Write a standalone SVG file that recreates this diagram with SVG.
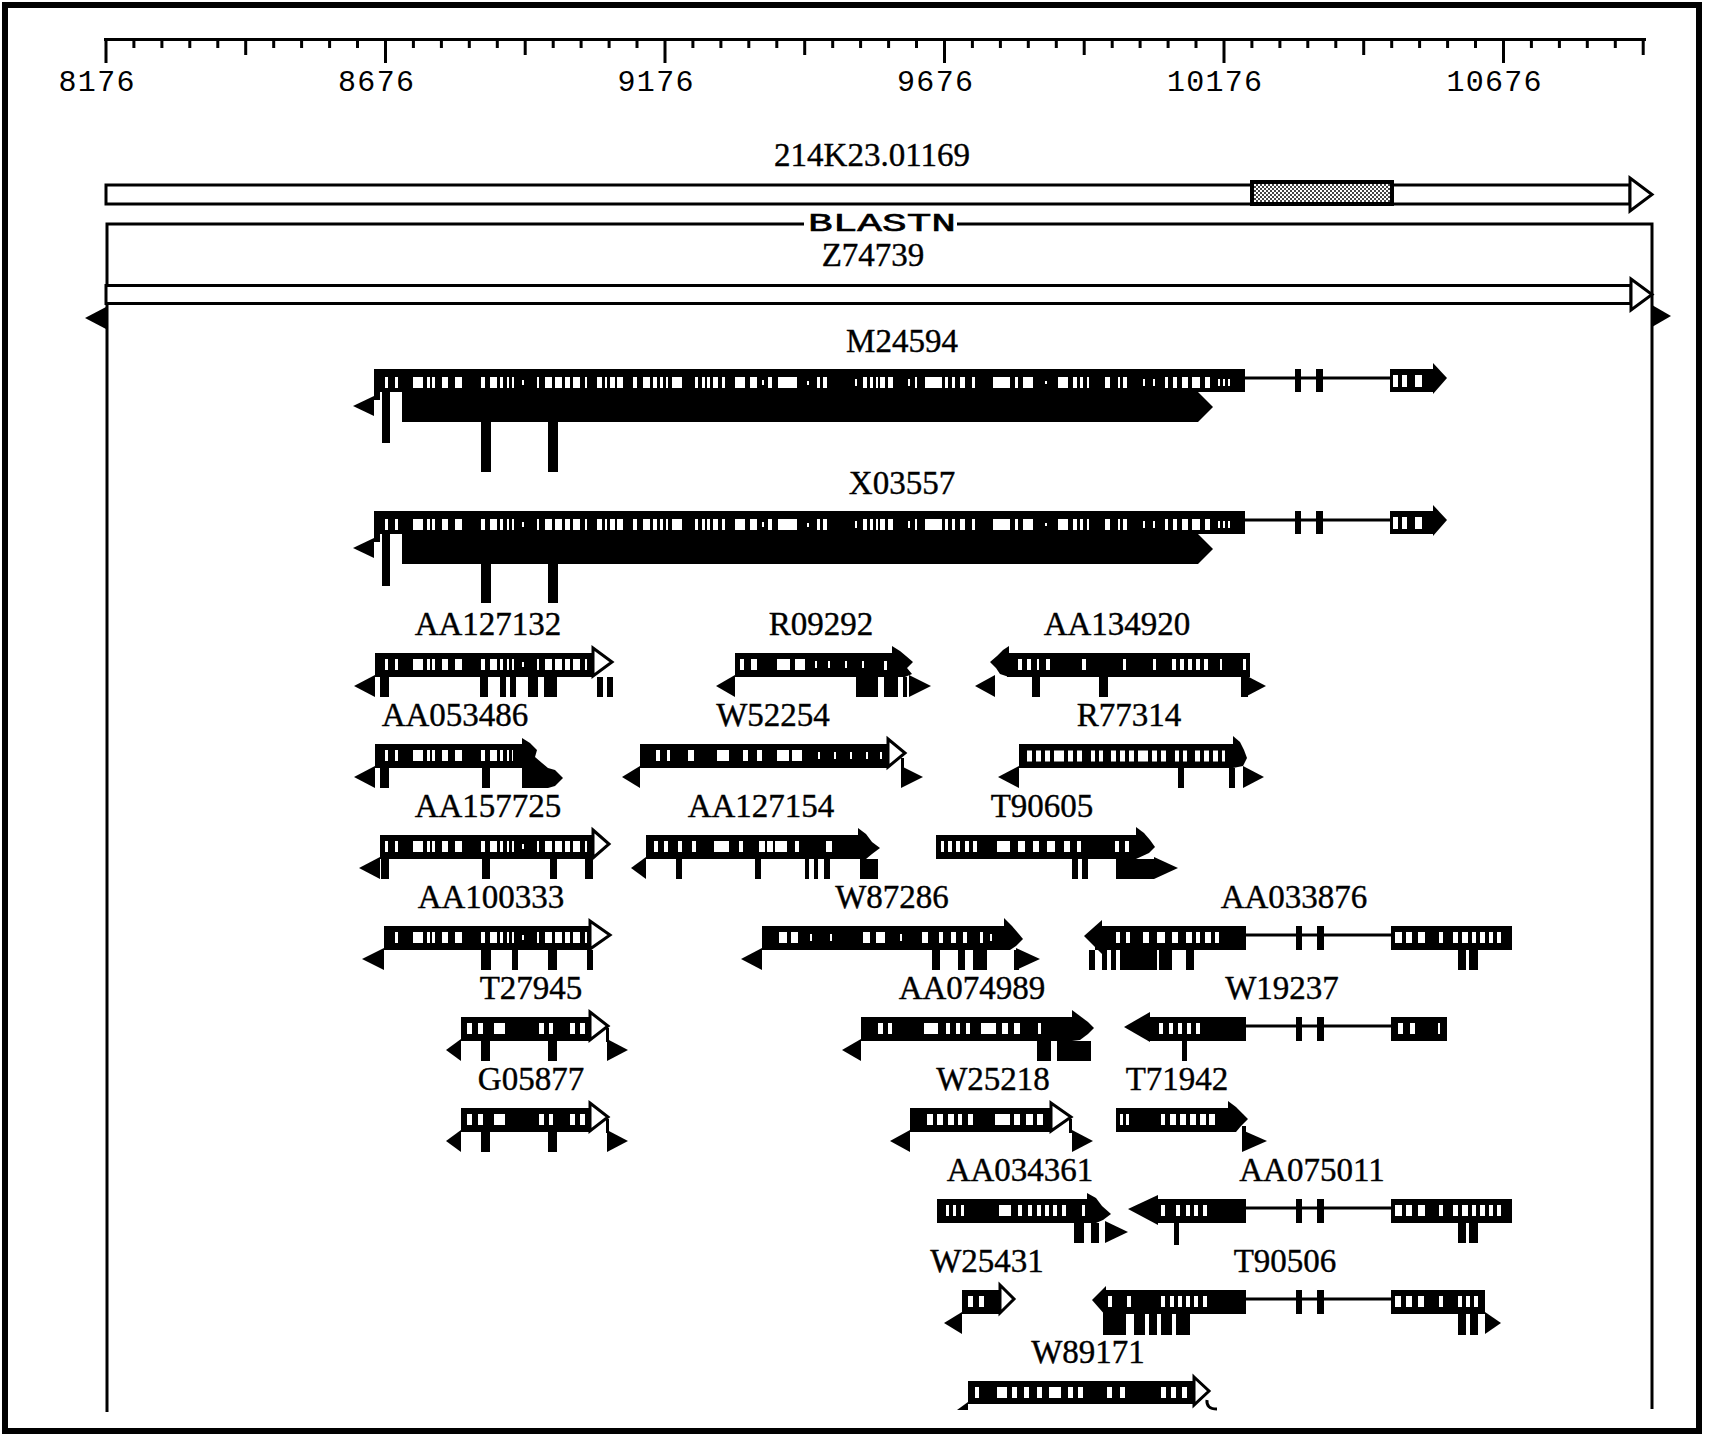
<svg xmlns="http://www.w3.org/2000/svg" width="1710" height="1441" viewBox="0 0 1710 1441">
<defs>
<pattern id="stip" width="4" height="4" patternUnits="userSpaceOnUse"><rect width="4" height="4" fill="#fff"/><rect width="2" height="2" fill="#444"/><rect x="2" y="2" width="2" height="2" fill="#444"/></pattern>
<style>
.b{fill:#000}
.oh{fill:#fff;stroke:#000;stroke-width:3}
.ln{fill:none;stroke:#000;stroke-width:3}
.lbl{font-family:"Liberation Serif","Times New Roman",serif;font-size:33px;text-anchor:middle;fill:#000;stroke:#000;stroke-width:0.4}
.num{font-family:"Liberation Mono","Courier New",monospace;font-size:30px;text-anchor:middle;fill:#000}
.win{fill:none;stroke:#fff;stroke-width:11}
.p3{stroke-dasharray:5 4 5 4 5 4 10 4 5 4 5 9 4 4 4 8}
.wn rect{fill:#fff}
</style>
<g id="mw" class="wn">
<rect x="385" y="0" width="3" height="11"/><rect x="395" y="0" width="3" height="11"/><rect x="413" y="0" width="10" height="11"/><rect x="427" y="0" width="3" height="11"/><rect x="432" y="0" width="3" height="11"/><rect x="442" y="0" width="6" height="11"/><rect x="455" y="0" width="7" height="11"/><rect x="481" y="0" width="4" height="11"/><rect x="490" y="0" width="7" height="11"/><rect x="500" y="0" width="3" height="11"/><rect x="507" y="0" width="2" height="11"/><rect x="512" y="0" width="2" height="11"/><rect x="522" y="3" width="2" height="5"/><rect x="537" y="0" width="2" height="11"/><rect x="545" y="0" width="7" height="11"/><rect x="555" y="0" width="7" height="11"/><rect x="565" y="0" width="5" height="11"/><rect x="573" y="0" width="7" height="11"/><rect x="585" y="0" width="2" height="11"/><rect x="597" y="0" width="5" height="11"/><rect x="605" y="0" width="2" height="11"/><rect x="610" y="0" width="5" height="11"/><rect x="617" y="0" width="6" height="11"/><rect x="633" y="0" width="4" height="11"/><rect x="643" y="0" width="7" height="11"/><rect x="653" y="0" width="4" height="11"/><rect x="660" y="0" width="3" height="11"/><rect x="666" y="0" width="2" height="11"/><rect x="672" y="0" width="10" height="11"/><rect x="695" y="0" width="3" height="11"/><rect x="702" y="0" width="3" height="11"/><rect x="707" y="0" width="3" height="11"/><rect x="713" y="0" width="5" height="11"/><rect x="722" y="0" width="3" height="11"/><rect x="735" y="0" width="10" height="11"/><rect x="750" y="0" width="7" height="11"/><rect x="762" y="3" width="2" height="5"/><rect x="768" y="0" width="4" height="11"/><rect x="778" y="0" width="19" height="11"/><rect x="807" y="4" width="2" height="4"/><rect x="817" y="0" width="3" height="11"/><rect x="823" y="0" width="4" height="11"/><rect x="855" y="2" width="2" height="7"/><rect x="863" y="0" width="4" height="11"/><rect x="870" y="0" width="3" height="11"/><rect x="876" y="0" width="2" height="11"/><rect x="880" y="0" width="5" height="11"/><rect x="888" y="0" width="5" height="11"/><rect x="908" y="2" width="2" height="7"/><rect x="915" y="0" width="2" height="11"/><rect x="925" y="0" width="17" height="11"/><rect x="945" y="0" width="3" height="11"/><rect x="952" y="0" width="3" height="11"/><rect x="960" y="0" width="5" height="11"/><rect x="972" y="0" width="3" height="11"/><rect x="993" y="0" width="17" height="11"/><rect x="1015" y="0" width="3" height="11"/><rect x="1023" y="0" width="10" height="11"/><rect x="1045" y="4" width="2" height="3"/><rect x="1058" y="0" width="10" height="11"/><rect x="1073" y="0" width="4" height="11"/><rect x="1080" y="0" width="3" height="11"/><rect x="1087" y="0" width="2" height="11"/><rect x="1105" y="0" width="5" height="11"/><rect x="1118" y="0" width="2" height="11"/><rect x="1123" y="0" width="4" height="11"/><rect x="1143" y="2" width="2" height="7"/><rect x="1153" y="2" width="2" height="7"/><rect x="1165" y="0" width="3" height="11"/><rect x="1173" y="0" width="4" height="11"/><rect x="1182" y="0" width="6" height="11"/><rect x="1192" y="0" width="8" height="11"/><rect x="1205" y="0" width="5" height="11"/><rect x="1218" y="2" width="2" height="7"/><rect x="1223" y="2" width="2" height="7"/><rect x="1228" y="2" width="2" height="7"/>
</g>
<clipPath id="cA" clipPathUnits="userSpaceOnUse"><rect x="378" y="640" width="212" height="40"/></clipPath>
<clipPath id="cB" clipPathUnits="userSpaceOnUse"><rect x="380" y="740" width="133" height="30"/></clipPath>
<clipPath id="cC" clipPathUnits="userSpaceOnUse"><rect x="384" y="830" width="206" height="30"/></clipPath>
<clipPath id="cD" clipPathUnits="userSpaceOnUse"><rect x="388" y="920" width="200" height="30"/></clipPath>
</defs>
<rect width="1710" height="1441" fill="#fff"/>
<rect x="5" y="5" width="1694" height="1426" fill="none" stroke="#000" stroke-width="6"/>

<g id="ruler">
<path class="ln" d="M104,39.5H1646"/>
<path fill="none" stroke="#000" stroke-width="3" d="M133.9,39v9M161.9,39v9M189.8,39v9M217.8,39v9M273.7,39v9M301.6,39v9M329.6,39v9M357.5,39v9M413.4,39v9M441.4,39v9M469.3,39v9M497.3,39v9M553.2,39v9M581.1,39v9M609.1,39v9M637,39v9M692.9,39v9M720.9,39v9M748.8,39v9M776.8,39v9M832.7,39v9M860.6,39v9M888.6,39v9M916.5,39v9M972.4,39v9M1000.4,39v9M1028.3,39v9M1056.3,39v9M1112.2,39v9M1140.1,39v9M1168.1,39v9M1196,39v9M1251.9,39v9M1279.9,39v9M1307.8,39v9M1335.8,39v9M1391.7,39v9M1419.6,39v9M1447.6,39v9M1475.5,39v9M1531.4,39v9M1559.4,39v9M1587.3,39v9M1615.3,39v9M245.7,39v16M525.2,39v16M804.7,39v16M1084.2,39v16M1363.7,39v16M1643.2,39v16M106,39v24M385.5,39v24M665,39v24M944.5,39v24M1224,39v24M1503.5,39v24"/>
<text class="num" x="96.5" y="91" textLength="76" lengthAdjust="spacing">8176</text>
<text class="num" x="376" y="91" textLength="76" lengthAdjust="spacing">8676</text>
<text class="num" x="655.5" y="91" textLength="76" lengthAdjust="spacing">9176</text>
<text class="num" x="935" y="91" textLength="76" lengthAdjust="spacing">9676</text>
<text class="num" x="1214.5" y="91" textLength="95" lengthAdjust="spacing">10176</text>
<text class="num" x="1494" y="91" textLength="95" lengthAdjust="spacing">10676</text>
</g>

<g id="query-214K23">
<text class="lbl" x="872" y="166">214K23.01169</text>
<rect x="106" y="185" width="1524" height="19" fill="#fff" stroke="#000" stroke-width="3"/>
<polygon class="oh" points="1630,178 1652,194.5 1630,211"/>
<rect x="1252" y="182" width="140" height="22" fill="url(#stip)" stroke="#000" stroke-width="4"/>
</g>

<g id="blastn">
<path class="ln" d="M107,1412V224H804M957,224H1652V1409"/>
<text x="882" y="231" font-family="'Liberation Mono','Courier New',monospace" font-size="25" text-anchor="middle" textLength="148" lengthAdjust="spacingAndGlyphs" stroke="#000" stroke-width="0.6">BLASTN</text>
</g>

<g id="Z74739">
<text class="lbl" x="873" y="266">Z74739</text>
<rect x="106" y="285.5" width="1525" height="18" fill="#fff" stroke="#000" stroke-width="3"/>
<polygon class="oh" points="1631,279 1652,294.5 1631,310"/>
<polygon class="b" points="85,318 106,307 106,329"/>
<polygon class="b" points="1671,316 1652,305 1652,327"/>
</g>

<g id="connectors" class="ln">
<path d="M1245,378H1390"/>
<path d="M1245,520H1390"/>
<path d="M1246,935H1391"/>
<path d="M1246,1026H1391"/>
<path d="M1246,1208H1391"/>
<path d="M1246,1299H1391"/>
</g>

<g id="M24594">
<text class="lbl" x="902" y="352">M24594</text>
<rect class="b" x="374" y="369" width="871" height="23"/>
<rect class="b" x="374" y="392" width="6" height="8"/>
<polygon class="b" points="353,406 374,396 374,416"/>
<rect class="b" x="382" y="392" width="8" height="51"/>
<polygon class="b" points="402,392 1198,392 1213,407 1198,422 402,422"/>
<path class="b" d="M481,422h10v50h-10zM548,422h10v50h-10z"/>
<use href="#mw" y="377"/>
<path class="b" d="M1295,369h6v23h-6zM1316,369h7v23h-7zM1390,369h43v23h-43z"/>
<g class="wn"><rect x="1393" y="375" width="5" height="12"/><rect x="1402" y="375" width="5" height="12"/><rect x="1415" y="375" width="7" height="12"/></g>
<polygon class="b" points="1433,363 1447,378 1433,394"/>
</g>

<g id="X03557">
<text class="lbl" x="902" y="494">X03557</text>
<rect class="b" x="374" y="511" width="871" height="23"/>
<rect class="b" x="374" y="534" width="6" height="8"/>
<polygon class="b" points="353,548 374,538 374,558"/>
<rect class="b" x="382" y="534" width="8" height="52"/>
<polygon class="b" points="402,534 1198,534 1213,549 1198,564 402,564"/>
<path class="b" d="M481,564h10v39h-10zM548,564h10v39h-10z"/>
<use href="#mw" y="519"/>
<path class="b" d="M1295,511h6v23h-6zM1316,511h7v23h-7zM1390,511h43v23h-43z"/>
<g class="wn"><rect x="1393" y="517" width="5" height="12"/><rect x="1402" y="517" width="5" height="12"/><rect x="1415" y="517" width="7" height="12"/></g>
<polygon class="b" points="1433,505 1447,520 1433,536"/>
</g>

<g id="AA127132">
<text class="lbl" x="488" y="635">AA127132</text>
<rect class="b" x="375" y="653" width="218" height="24"/>
<g clip-path="url(#cA)"><use href="#mw" y="659"/></g>
<polygon class="oh" points="593,648 612,662 593,676"/>
<polygon class="b" points="354,686 375,675 375,697"/>
<path class="b" d="M380,677h9v20h-9zM480,677h8v20h-8zM500,677h6v20h-6zM510,677h6v20h-6zM528,677h10v20h-10zM544,677h13v20h-13zM597,677h6v20h-6zM607,677h6v20h-6z"/>
</g>

<g id="R09292">
<text class="lbl" x="821" y="635">R09292</text>
<rect class="b" x="735" y="653" width="157" height="24"/>
<g class="wn"><rect x="740" y="659" width="4" height="11"/><rect x="751" y="659" width="6" height="11"/><rect x="777" y="659" width="13" height="11"/><rect x="795" y="659" width="10" height="11"/><rect x="815" y="661" width="2" height="7"/><rect x="828" y="661" width="2" height="7"/><rect x="845" y="661" width="2" height="7"/><rect x="862" y="661" width="2" height="7"/><rect x="884" y="661" width="3" height="9"/></g>
<polygon class="b" points="892,646 900,651 906,656 913,662 907,668 912,674 905,677 892,677"/>
<polygon class="b" points="716,686 735,675 735,697"/>
<polygon class="b" points="909,675 931,686 909,697"/>
<path class="b" d="M856,677h22v20h-22zM884,677h14v20h-14zM903,677h4v20h-4z"/>
</g>

<g id="AA134920">
<text class="lbl" x="1117" y="635">AA134920</text>
<rect class="b" x="1007" y="653" width="243" height="24"/>
<polygon class="b" points="1009,646 1003,650 997,656 990,662 996,668 1000,674 1009,677"/>
<g class="wn"><rect x="1018" y="659" width="4" height="11"/><rect x="1027" y="659" width="4" height="11"/><rect x="1037" y="659" width="2" height="11"/><rect x="1046" y="659" width="4" height="11"/><rect x="1082" y="659" width="4" height="11"/><rect x="1123" y="659" width="3" height="11"/><rect x="1153" y="659" width="3" height="11"/><rect x="1172" y="659" width="4" height="11"/><rect x="1180" y="659" width="4" height="11"/><rect x="1188" y="659" width="4" height="11"/><rect x="1196" y="659" width="4" height="11"/><rect x="1204" y="659" width="4" height="11"/><rect x="1220" y="659" width="2" height="11"/><rect x="1243" y="659" width="3" height="11"/></g>
<polygon class="b" points="975,686 995,675 995,697"/>
<polygon class="b" points="1245,675 1266,686 1245,697"/>
<path class="b" d="M1032,677h8v20h-8zM1099,677h9v20h-9zM1241,677h7v20h-7z"/>
</g>

<g id="AA053486">
<text class="lbl" x="455" y="726">AA053486</text>
<rect class="b" x="375" y="744" width="147" height="24"/>
<g clip-path="url(#cB)"><use href="#mw" y="750"/></g>
<path class="b" d="M522,738L530,743L537,750L535,757L542,763L548,768L555,770L563,778L555,786L548,788L522,788Z"/>
<polygon class="b" points="354,777 375,766 375,788"/>
<path class="b" d="M380,768h9v20h-9zM482,768h8v20h-8z"/>
</g>

<g id="W52254">
<text class="lbl" x="773" y="726">W52254</text>
<rect class="b" x="640" y="744" width="248" height="24"/>
<g class="wn"><rect x="656" y="750" width="4" height="11"/><rect x="667" y="750" width="3" height="11"/><rect x="688" y="750" width="6" height="11"/><rect x="717" y="750" width="12" height="11"/><rect x="743" y="750" width="5" height="11"/><rect x="757" y="750" width="5" height="11"/><rect x="777" y="750" width="12" height="11"/><rect x="792" y="750" width="10" height="11"/><rect x="818" y="752" width="2" height="7"/><rect x="834" y="752" width="2" height="7"/><rect x="850" y="752" width="2" height="7"/><rect x="866" y="752" width="2" height="7"/><rect x="880" y="752" width="2" height="7"/></g>
<polygon class="oh" points="888,739 905,753 888,767"/>
<polygon class="b" points="622,777 640,766 640,788"/>
<rect class="b" x="901" y="758" width="3" height="12"/>
<polygon class="b" points="901,766 923,777 901,788"/>
</g>

<g id="R77314">
<text class="lbl" x="1129" y="726">R77314</text>
<rect class="b" x="1019" y="744" width="214" height="24"/>
<line class="win p3" x1="1027" y1="756" x2="1225" y2="756"/>
<polygon class="b" points="1233,736 1240,742 1244,750 1247,758 1243,766 1233,768"/>
<polygon class="b" points="998,777 1019,766 1019,788"/>
<polygon class="b" points="1243,766 1264,777 1243,788"/>
<path class="b" d="M1178,768h6v20h-6zM1229,768h6v20h-6z"/>
</g>

<g id="AA157725">
<text class="lbl" x="488" y="817">AA157725</text>
<rect class="b" x="380" y="835" width="213" height="24"/>
<g clip-path="url(#cC)"><use href="#mw" y="841"/></g>
<polygon class="oh" points="593,830 609,844 593,858"/>
<polygon class="b" points="359,868 380,857 380,879"/>
<path class="b" d="M381,859h8v20h-8zM482,859h8v20h-8zM550,859h7v20h-7zM585,859h8v20h-8z"/>
</g>

<g id="AA127154">
<text class="lbl" x="761" y="817">AA127154</text>
<rect class="b" x="646" y="835" width="212" height="24"/>
<g class="wn"><rect x="654" y="841" width="4" height="11"/><rect x="664" y="841" width="4" height="11"/><rect x="678" y="841" width="4" height="11"/><rect x="692" y="841" width="4" height="11"/><rect x="714" y="841" width="15" height="11"/><rect x="739" y="841" width="4" height="11"/><rect x="759" y="841" width="6" height="11"/><rect x="767" y="841" width="6" height="11"/><rect x="775" y="841" width="12" height="11"/><rect x="795" y="841" width="4" height="11"/><rect x="826" y="841" width="6" height="11"/></g>
<polygon class="b" points="858,828 866,834 872,842 880,848 872,854 866,859 858,859"/>
<polygon class="b" points="631,868 646,857 646,879"/>
<path class="b" d="M676,859h6v20h-6zM755,859h6v20h-6zM805,859h4v20h-4zM814,859h4v20h-4zM824,859h6v20h-6zM860,859h18v20h-18z"/>
</g>

<g id="T90605">
<text class="lbl" x="1042" y="817">T90605</text>
<rect class="b" x="936" y="835" width="200" height="24"/>
<g class="wn"><rect x="941" y="841" width="3" height="11"/><rect x="948" y="841" width="4" height="11"/><rect x="956" y="841" width="4" height="11"/><rect x="965" y="841" width="4" height="11"/><rect x="973" y="841" width="4" height="11"/><rect x="997" y="841" width="13" height="11"/><rect x="1018" y="841" width="7" height="11"/><rect x="1033" y="841" width="6" height="11"/><rect x="1047" y="841" width="8" height="11"/><rect x="1064" y="841" width="6" height="11"/><rect x="1077" y="841" width="4" height="11"/><rect x="1115" y="841" width="4" height="11"/><rect x="1125" y="841" width="4" height="11"/></g>
<polygon class="b" points="1136,827 1144,833 1150,840 1155,847 1149,853 1136,859"/>
<polygon class="b" points="1154,857 1178,868 1154,879"/>
<path class="b" d="M1072,859h6v20h-6zM1082,859h6v20h-6zM1116,859h38v20h-38z"/>
</g>

<g id="AA100333">
<text class="lbl" x="491" y="908">AA100333</text>
<rect class="b" x="384" y="926" width="206" height="24"/>
<g clip-path="url(#cD)"><use href="#mw" y="932"/></g>
<polygon class="oh" points="590,921 610,935 590,949"/>
<polygon class="b" points="362,959 384,948 384,970"/>
<path class="b" d="M481,950h10v20h-10zM512,950h6v20h-6zM548,950h9v20h-9zM587,950h6v20h-6z"/>
</g>

<g id="W87286">
<text class="lbl" x="892" y="908">W87286</text>
<rect class="b" x="762" y="926" width="242" height="24"/>
<g class="wn"><rect x="779" y="932" width="8" height="11"/><rect x="791" y="932" width="7" height="11"/><rect x="810" y="934" width="2" height="7"/><rect x="830" y="934" width="2" height="7"/><rect x="863" y="932" width="7" height="11"/><rect x="876" y="932" width="9" height="11"/><rect x="900" y="934" width="2" height="7"/><rect x="922" y="932" width="6" height="11"/><rect x="939" y="932" width="4" height="11"/><rect x="951" y="932" width="5" height="11"/><rect x="963" y="932" width="4" height="11"/><rect x="980" y="932" width="3" height="11"/><rect x="990" y="934" width="2" height="7"/></g>
<polygon class="b" points="1004,918 1012,926 1018,933 1023,939 1016,946 1010,950 1004,950"/>
<polygon class="b" points="741,959 762,948 762,970"/>
<polygon class="b" points="1016,948 1040,959 1016,970"/>
<path class="b" d="M932,950h8v20h-8zM958,950h7v20h-7zM973,950h14v20h-14zM1014,950h5v20h-5z"/>
</g>

<g id="AA033876">
<text class="lbl" x="1294" y="908">AA033876</text>
<rect class="b" x="1095" y="926" width="151" height="24"/>
<polygon class="b" points="1102,920 1084,936 1102,954"/>
<g class="wn"><rect x="1116" y="932" width="4" height="11"/><rect x="1126" y="932" width="4" height="11"/><rect x="1143" y="932" width="6" height="11"/><rect x="1157" y="932" width="8" height="11"/><rect x="1172" y="932" width="6" height="11"/><rect x="1186" y="932" width="6" height="11"/><rect x="1196" y="932" width="4" height="11"/><rect x="1205" y="932" width="6" height="11"/><rect x="1215" y="932" width="4" height="11"/></g>
<path class="b" d="M1296,926h6v24h-6zM1317,926h7v24h-7zM1391,926h121v24h-121z"/>
<g class="wn"><rect x="1395" y="932" width="7" height="11"/><rect x="1406" y="932" width="6" height="11"/><rect x="1418" y="932" width="7" height="11"/><rect x="1439" y="932" width="4" height="11"/><rect x="1453" y="932" width="5" height="11"/><rect x="1462" y="932" width="6" height="11"/><rect x="1472" y="932" width="4" height="11"/><rect x="1480" y="932" width="5" height="11"/><rect x="1489" y="932" width="4" height="11"/><rect x="1497" y="932" width="4" height="11"/></g>
<path class="b" d="M1089,950h6v20h-6zM1102,950h5v20h-5zM1111,950h5v20h-5zM1120,950h37v20h-37zM1159,950h13v20h-13zM1186,950h8v20h-8zM1458,950h8v20h-8zM1469,950h9v20h-9z"/>
</g>

<g id="T27945">
<text class="lbl" x="531" y="999">T27945</text>
<rect class="b" x="461" y="1017" width="129" height="24"/>
<g class="wn"><rect x="467" y="1023" width="5" height="11"/><rect x="478" y="1023" width="5" height="11"/><rect x="494" y="1023" width="11" height="11"/><rect x="539" y="1023" width="5" height="11"/><rect x="549" y="1023" width="4" height="11"/><rect x="570" y="1023" width="5" height="11"/><rect x="580" y="1023" width="5" height="11"/></g>
<polygon class="oh" points="590,1012 608,1026 590,1040"/>
<polygon class="b" points="446,1050 461,1039 461,1061"/>
<rect class="b" x="606" y="1028" width="3" height="14"/>
<polygon class="b" points="607,1039 628,1050 607,1061"/>
<path class="b" d="M481,1041h9v20h-9zM548,1041h9v20h-9z"/>
</g>

<g id="AA074989">
<text class="lbl" x="972" y="999">AA074989</text>
<rect class="b" x="861" y="1017" width="211" height="24"/>
<g class="wn"><rect x="878" y="1023" width="5" height="11"/><rect x="888" y="1023" width="4" height="11"/><rect x="924" y="1023" width="14" height="11"/><rect x="946" y="1023" width="4" height="11"/><rect x="956" y="1023" width="4" height="11"/><rect x="966" y="1023" width="4" height="11"/><rect x="981" y="1023" width="15" height="11"/><rect x="1002" y="1023" width="6" height="11"/><rect x="1014" y="1023" width="6" height="11"/><rect x="1038" y="1023" width="3" height="11"/></g>
<polygon class="b" points="1072,1010 1080,1016 1088,1022 1094,1028 1088,1034 1080,1040 1072,1041"/>
<polygon class="b" points="842,1050 861,1039 861,1061"/>
<path class="b" d="M1037,1041h14v20h-14zM1057,1041h34v20h-34z"/>
</g>

<g id="W19237">
<text class="lbl" x="1282" y="999">W19237</text>
<rect class="b" x="1149" y="1017" width="97" height="24"/>
<polygon class="b" points="1150,1012 1124,1027 1150,1042"/>
<g class="wn"><rect x="1159" y="1023" width="4" height="11"/><rect x="1169" y="1023" width="4" height="11"/><rect x="1178" y="1023" width="4" height="11"/><rect x="1187" y="1023" width="4" height="11"/><rect x="1196" y="1023" width="4" height="11"/></g>
<path class="b" d="M1296,1017h6v24h-6zM1317,1017h7v24h-7zM1391,1017h56v24h-56z"/>
<g class="wn"><rect x="1398" y="1023" width="5" height="11"/><rect x="1410" y="1023" width="5" height="11"/><rect x="1438" y="1023" width="2" height="11"/></g>
<path class="b" d="M1182,1041h5v20h-5z"/>
</g>

<g id="G05877">
<text class="lbl" x="531" y="1090">G05877</text>
<rect class="b" x="461" y="1108" width="129" height="24"/>
<g class="wn"><rect x="467" y="1114" width="5" height="11"/><rect x="478" y="1114" width="5" height="11"/><rect x="494" y="1114" width="11" height="11"/><rect x="539" y="1114" width="5" height="11"/><rect x="549" y="1114" width="4" height="11"/><rect x="570" y="1114" width="5" height="11"/><rect x="580" y="1114" width="5" height="11"/></g>
<polygon class="oh" points="590,1103 608,1117 590,1131"/>
<polygon class="b" points="446,1141 461,1130 461,1152"/>
<rect class="b" x="606" y="1119" width="3" height="14"/>
<polygon class="b" points="607,1130 628,1141 607,1152"/>
<path class="b" d="M481,1132h9v20h-9zM548,1132h9v20h-9z"/>
</g>

<g id="W25218">
<text class="lbl" x="993" y="1090">W25218</text>
<rect class="b" x="910" y="1108" width="141" height="24"/>
<g class="wn"><rect x="927" y="1114" width="6" height="11"/><rect x="937" y="1114" width="6" height="11"/><rect x="948" y="1114" width="6" height="11"/><rect x="958" y="1114" width="4" height="11"/><rect x="968" y="1114" width="5" height="11"/><rect x="995" y="1114" width="15" height="11"/><rect x="1014" y="1114" width="6" height="11"/><rect x="1026" y="1114" width="7" height="11"/><rect x="1037" y="1114" width="6" height="11"/></g>
<polygon class="oh" points="1051,1103 1071,1117 1051,1131"/>
<polygon class="b" points="890,1141 910,1130 910,1152"/>
<rect class="b" x="1069" y="1119" width="3" height="14"/>
<polygon class="b" points="1072,1130 1093,1141 1072,1152"/>
</g>

<g id="T71942">
<text class="lbl" x="1177" y="1090">T71942</text>
<rect class="b" x="1116" y="1108" width="112" height="24"/>
<g class="wn"><rect x="1120" y="1114" width="3" height="11"/><rect x="1126" y="1114" width="3" height="11"/><rect x="1161" y="1114" width="4" height="11"/><rect x="1170" y="1114" width="6" height="11"/><rect x="1180" y="1114" width="6" height="11"/><rect x="1190" y="1114" width="6" height="11"/><rect x="1200" y="1114" width="6" height="11"/><rect x="1209" y="1114" width="6" height="11"/></g>
<polygon class="b" points="1228,1101 1236,1107 1243,1114 1248,1119 1241,1126 1236,1132 1228,1132"/>
<rect class="b" x="1242" y="1126" width="4" height="10"/>
<polygon class="b" points="1242,1130 1267,1141 1242,1152"/>
</g>

<g id="AA034361">
<text class="lbl" x="1020" y="1181">AA034361</text>
<rect class="b" x="937" y="1199" width="150" height="24"/>
<g class="wn"><rect x="946" y="1205" width="3" height="11"/><rect x="953" y="1205" width="3" height="11"/><rect x="961" y="1205" width="3" height="11"/><rect x="999" y="1205" width="12" height="11"/><rect x="1018" y="1205" width="4" height="11"/><rect x="1028" y="1205" width="4" height="11"/><rect x="1037" y="1205" width="4" height="11"/><rect x="1045" y="1205" width="4" height="11"/><rect x="1053" y="1205" width="4" height="11"/><rect x="1062" y="1205" width="4" height="11"/><rect x="1082" y="1205" width="3" height="11"/></g>
<polygon class="b" points="1087,1193 1096,1198 1102,1206 1111,1214 1103,1220 1096,1223 1087,1223"/>
<polygon class="b" points="1105,1221 1128,1232 1105,1243"/>
<path class="b" d="M1074,1223h10v20h-10zM1091,1223h8v20h-8z"/>
</g>

<g id="AA075011">
<text class="lbl" x="1312" y="1181">AA075011</text>
<rect class="b" x="1157" y="1199" width="89" height="24"/>
<polygon class="b" points="1158,1195 1128,1209 1158,1225"/>
<g class="wn"><rect x="1161" y="1205" width="4" height="11"/><rect x="1176" y="1205" width="4" height="11"/><rect x="1186" y="1205" width="4" height="11"/><rect x="1194" y="1205" width="4" height="11"/><rect x="1203" y="1205" width="4" height="11"/></g>
<path class="b" d="M1296,1199h6v24h-6zM1317,1199h7v24h-7zM1391,1199h121v24h-121z"/>
<g class="wn"><rect x="1395" y="1205" width="7" height="11"/><rect x="1406" y="1205" width="6" height="11"/><rect x="1418" y="1205" width="7" height="11"/><rect x="1439" y="1205" width="4" height="11"/><rect x="1453" y="1205" width="5" height="11"/><rect x="1462" y="1205" width="6" height="11"/><rect x="1472" y="1205" width="4" height="11"/><rect x="1480" y="1205" width="5" height="11"/><rect x="1489" y="1205" width="4" height="11"/><rect x="1497" y="1205" width="4" height="11"/></g>
<path class="b" d="M1174,1223h5v22h-5zM1458,1223h8v20h-8zM1469,1223h9v20h-9z"/>
</g>

<g id="W25431">
<text class="lbl" x="987" y="1272">W25431</text>
<rect class="b" x="962" y="1290" width="38" height="24"/>
<g class="wn"><rect x="968" y="1296" width="5" height="11"/><rect x="979" y="1296" width="5" height="11"/></g>
<polygon class="oh" points="1000,1285 1014,1299 1000,1313"/>
<polygon class="b" points="944,1323 962,1312 962,1334"/>
</g>

<g id="T90506">
<text class="lbl" x="1285" y="1272">T90506</text>
<rect class="b" x="1103" y="1290" width="143" height="24"/>
<polygon class="b" points="1106,1286 1092,1300 1106,1316"/>
<g class="wn"><rect x="1108" y="1296" width="4" height="11"/><rect x="1127" y="1296" width="4" height="11"/><rect x="1161" y="1296" width="4" height="11"/><rect x="1170" y="1296" width="4" height="11"/><rect x="1178" y="1296" width="4" height="11"/><rect x="1186" y="1296" width="4" height="11"/><rect x="1194" y="1296" width="4" height="11"/><rect x="1203" y="1296" width="4" height="11"/></g>
<path class="b" d="M1296,1290h6v24h-6zM1317,1290h7v24h-7zM1391,1290h94v24h-94z"/>
<g class="wn"><rect x="1395" y="1296" width="6" height="11"/><rect x="1406" y="1296" width="6" height="11"/><rect x="1418" y="1296" width="6" height="11"/><rect x="1439" y="1296" width="4" height="11"/><rect x="1458" y="1296" width="4" height="11"/><rect x="1466" y="1296" width="4" height="11"/><rect x="1474" y="1296" width="4" height="11"/></g>
<polygon class="b" points="1485,1312 1501,1323 1485,1334"/>
<path class="b" d="M1103,1314h23v21h-23zM1134,1314h11v21h-11zM1149,1314h8v21h-8zM1161,1314h11v21h-11zM1176,1314h14v21h-14zM1458,1314h8v21h-8zM1470,1314h8v21h-8z"/>
</g>

<g id="W89171">
<text class="lbl" x="1088" y="1363">W89171</text>
<rect class="b" x="968" y="1381" width="226" height="23"/>
<g class="wn"><rect x="975" y="1387" width="4" height="11"/><rect x="997" y="1387" width="10" height="11"/><rect x="1012" y="1387" width="5" height="11"/><rect x="1024" y="1387" width="5" height="11"/><rect x="1037" y="1387" width="5" height="11"/><rect x="1049" y="1387" width="12" height="11"/><rect x="1068" y="1387" width="5" height="11"/><rect x="1078" y="1387" width="5" height="11"/><rect x="1107" y="1387" width="5" height="11"/><rect x="1120" y="1387" width="5" height="11"/><rect x="1161" y="1387" width="5" height="11"/><rect x="1171" y="1387" width="5" height="11"/><rect x="1182" y="1387" width="5" height="11"/></g>
<polygon class="oh" points="1194,1377 1209,1391 1194,1405"/>
<polygon class="b" points="957,1410 968,1402 968,1410"/>
<path class="ln" d="M1207,1400Q1206,1409 1217,1409"/>
</g>
</svg>
